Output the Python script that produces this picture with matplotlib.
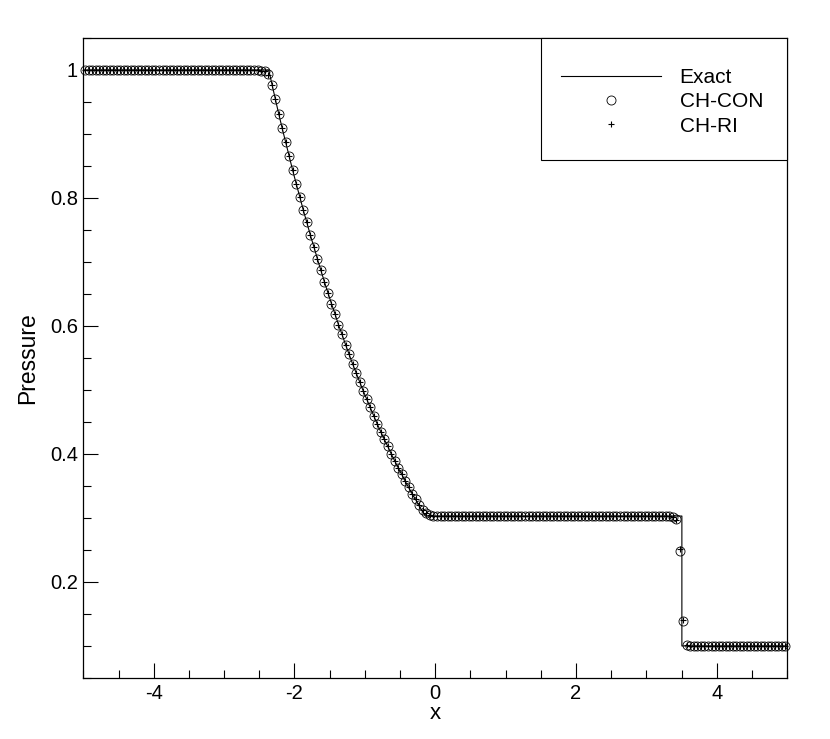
import numpy as np
import matplotlib
matplotlib.use('Agg')
import matplotlib.pyplot as plt
from matplotlib.patches import Rectangle
from matplotlib.ticker import MultipleLocator, FormatStrFormatter

plt.rcParams['font.family'] = ['Liberation Sans', 'DejaVu Sans']
plt.rcParams['axes.unicode_minus'] = False

# cell centres of the numerical solution
x_cells = [
    -4.975, -4.925, -4.875, -4.825, -4.775, -4.725, -4.675, -4.625, -4.575, -4.525,
    -4.475, -4.425, -4.375, -4.325, -4.275, -4.225, -4.175, -4.125, -4.075, -4.025,
    -3.975, -3.925, -3.875, -3.825, -3.775, -3.725, -3.675, -3.625, -3.575, -3.525,
    -3.475, -3.425, -3.375, -3.325, -3.275, -3.225, -3.175, -3.125, -3.075, -3.025,
    -2.975, -2.925, -2.875, -2.825, -2.775, -2.725, -2.675, -2.625, -2.575, -2.525,
    -2.475, -2.425, -2.375, -2.325, -2.275, -2.225, -2.175, -2.125, -2.075, -2.025,
    -1.975, -1.925, -1.875, -1.825, -1.775, -1.725, -1.675, -1.625, -1.575, -1.525,
    -1.475, -1.425, -1.375, -1.325, -1.275, -1.225, -1.175, -1.125, -1.075, -1.025,
    -0.975, -0.925, -0.875, -0.825, -0.775, -0.725, -0.675, -0.625, -0.575, -0.525,
    -0.475, -0.425, -0.375, -0.325, -0.275, -0.225, -0.175, -0.125, -0.075, -0.025,
    0.025, 0.075, 0.125, 0.175, 0.225, 0.275, 0.325, 0.375, 0.425, 0.475,
    0.525, 0.575, 0.625, 0.675, 0.725, 0.775, 0.825, 0.875, 0.925, 0.975,
    1.025, 1.075, 1.125, 1.175, 1.225, 1.275, 1.325, 1.375, 1.425, 1.475,
    1.525, 1.575, 1.625, 1.675, 1.725, 1.775, 1.825, 1.875, 1.925, 1.975,
    2.025, 2.075, 2.125, 2.175, 2.225, 2.275, 2.325, 2.375, 2.425, 2.475,
    2.525, 2.575, 2.625, 2.675, 2.725, 2.775, 2.825, 2.875, 2.925, 2.975,
    3.025, 3.075, 3.125, 3.175, 3.225, 3.275, 3.325, 3.375, 3.425, 3.475,
    3.525, 3.575, 3.625, 3.675, 3.725, 3.775, 3.825, 3.875, 3.925, 3.975,
    4.025, 4.075, 4.125, 4.175, 4.225, 4.275, 4.325, 4.375, 4.425, 4.475,
    4.525, 4.575, 4.625, 4.675, 4.725, 4.775, 4.825, 4.875, 4.925, 4.975,
]

p_con = [
    1.000, 1.000, 1.000, 1.000, 1.000, 1.000, 1.000, 1.000, 1.000, 1.000,
    1.000, 1.000, 1.000, 1.000, 1.000, 1.000, 1.000, 1.000, 1.000, 1.000,
    1.000, 1.000, 1.000, 1.000, 1.000, 1.000, 1.000, 1.000, 1.000, 1.000,
    1.000, 1.000, 1.000, 1.000, 1.000, 1.000, 1.000, 1.000, 1.000, 1.000,
    1.000, 1.000, 1.000, 1.000, 1.000, 1.000, 1.000, 1.000, 1.000, 1.000,
    0.999, 0.998, 0.993, 0.977, 0.955, 0.932, 0.909, 0.887, 0.865, 0.843,
    0.822, 0.802, 0.781, 0.762, 0.742, 0.724, 0.705, 0.687, 0.669, 0.652,
    0.635, 0.619, 0.602, 0.587, 0.571, 0.556, 0.541, 0.527, 0.513, 0.499,
    0.486, 0.473, 0.460, 0.447, 0.435, 0.423, 0.412, 0.400, 0.389, 0.378,
    0.368, 0.358, 0.348, 0.338, 0.329, 0.320, 0.312, 0.307, 0.304, 0.303,
    0.303, 0.303, 0.303, 0.303, 0.303, 0.303, 0.303, 0.303, 0.303, 0.303,
    0.303, 0.303, 0.303, 0.303, 0.303, 0.303, 0.303, 0.303, 0.303, 0.303,
    0.303, 0.303, 0.303, 0.303, 0.303, 0.303, 0.303, 0.303, 0.303, 0.303,
    0.303, 0.303, 0.303, 0.303, 0.303, 0.303, 0.303, 0.303, 0.303, 0.303,
    0.303, 0.303, 0.303, 0.303, 0.303, 0.303, 0.303, 0.303, 0.303, 0.303,
    0.303, 0.303, 0.303, 0.303, 0.303, 0.303, 0.303, 0.303, 0.303, 0.303,
    0.303, 0.303, 0.303, 0.303, 0.303, 0.303, 0.303, 0.302, 0.298, 0.249,
    0.139, 0.102, 0.100, 0.100, 0.100, 0.100, 0.100, 0.100, 0.100, 0.100,
    0.100, 0.100, 0.100, 0.100, 0.100, 0.100, 0.100, 0.100, 0.100, 0.100,
    0.100, 0.100, 0.100, 0.100, 0.100, 0.100, 0.100, 0.100, 0.100, 0.100,
]

p_ri = [
    1.000, 1.000, 1.000, 1.000, 1.000, 1.000, 1.000, 1.000, 1.000, 1.000,
    1.000, 1.000, 1.000, 1.000, 1.000, 1.000, 1.000, 1.000, 1.000, 1.000,
    1.000, 1.000, 1.000, 1.000, 1.000, 1.000, 1.000, 1.000, 1.000, 1.000,
    1.000, 1.000, 1.000, 1.000, 1.000, 1.000, 1.000, 1.000, 1.000, 1.000,
    1.000, 1.000, 1.000, 1.000, 1.000, 1.000, 1.000, 1.000, 1.000, 1.000,
    0.999, 0.998, 0.992, 0.976, 0.955, 0.932, 0.909, 0.887, 0.865, 0.843,
    0.822, 0.802, 0.781, 0.762, 0.742, 0.724, 0.705, 0.687, 0.669, 0.652,
    0.635, 0.619, 0.602, 0.587, 0.571, 0.556, 0.541, 0.527, 0.513, 0.499,
    0.486, 0.473, 0.460, 0.447, 0.435, 0.423, 0.412, 0.400, 0.389, 0.378,
    0.368, 0.358, 0.348, 0.338, 0.329, 0.320, 0.312, 0.307, 0.304, 0.303,
    0.303, 0.303, 0.303, 0.303, 0.303, 0.303, 0.303, 0.303, 0.303, 0.303,
    0.303, 0.303, 0.303, 0.303, 0.303, 0.303, 0.303, 0.303, 0.303, 0.303,
    0.303, 0.303, 0.303, 0.303, 0.303, 0.303, 0.303, 0.303, 0.303, 0.303,
    0.303, 0.303, 0.303, 0.303, 0.303, 0.303, 0.303, 0.303, 0.303, 0.303,
    0.303, 0.303, 0.303, 0.303, 0.303, 0.303, 0.303, 0.303, 0.303, 0.303,
    0.303, 0.303, 0.303, 0.303, 0.303, 0.303, 0.303, 0.303, 0.303, 0.303,
    0.303, 0.303, 0.303, 0.303, 0.303, 0.303, 0.303, 0.302, 0.297, 0.251,
    0.141, 0.102, 0.100, 0.100, 0.100, 0.100, 0.100, 0.100, 0.100, 0.100,
    0.100, 0.100, 0.100, 0.100, 0.100, 0.100, 0.100, 0.100, 0.100, 0.100,
    0.100, 0.100, 0.100, 0.100, 0.100, 0.100, 0.100, 0.100, 0.100, 0.100,
]

# exact solution (piecewise)
x_exact = [
    -5.0, -2.366, -2.325, -2.275, -2.225, -2.175, -2.125, -2.075, -2.025, -1.975,
    -1.925, -1.875, -1.825, -1.775, -1.725, -1.675, -1.625, -1.575, -1.525, -1.475,
    -1.425, -1.375, -1.325, -1.275, -1.225, -1.175, -1.125, -1.075, -1.025, -0.975,
    -0.925, -0.875, -0.825, -0.775, -0.725, -0.675, -0.625, -0.575, -0.525, -0.475,
    -0.425, -0.375, -0.325, -0.275, -0.225, -0.175, -0.141, 3.504, 3.504, 5.0,
]
p_exact = [
    1.000, 1.000, 0.980, 0.956, 0.932, 0.909, 0.887, 0.865, 0.843, 0.822,
    0.802, 0.781, 0.762, 0.742, 0.724, 0.705, 0.687, 0.669, 0.652, 0.635,
    0.619, 0.602, 0.587, 0.571, 0.556, 0.541, 0.527, 0.513, 0.499, 0.486,
    0.473, 0.460, 0.447, 0.435, 0.423, 0.412, 0.400, 0.389, 0.378, 0.368,
    0.357, 0.347, 0.337, 0.328, 0.318, 0.309, 0.303, 0.303, 0.100, 0.100,
]

fig = plt.figure(figsize=(8.3, 7.39), dpi=100)
ax = fig.add_axes([0.1004, 0.0826, 0.848, 0.866])

ax.plot(x_exact, p_exact, color='black', linewidth=0.8, label='Exact')
ax.plot(x_cells, p_con, linestyle='none', marker='o', markersize=6.5,
        markerfacecolor='none', markeredgecolor='black', markeredgewidth=0.6,
        clip_on=False, label='CH-CON')
ax.plot(x_cells, p_ri, linestyle='none', marker='+', markersize=4.5,
        color='black', markeredgewidth=0.8, clip_on=False, label='CH-RI')

ax.set_xlim(-5, 5)
ax.set_ylim(0.05, 1.05)
ax.xaxis.set_major_locator(MultipleLocator(2))
ax.xaxis.set_minor_locator(MultipleLocator(0.5))
ax.yaxis.set_major_locator(MultipleLocator(0.2))
ax.yaxis.set_minor_locator(MultipleLocator(0.05))
ax.yaxis.set_major_formatter(FormatStrFormatter('%g'))
ax.tick_params(which='major', direction='in', length=11, width=0.8, labelsize=14.5, pad=4)
ax.tick_params(which='minor', direction='in', length=6, width=0.8)
for s in ax.spines.values():
    s.set_linewidth(0.9)

ax.set_xlabel('x', fontsize=16, labelpad=0)
ax.set_ylabel('Pressure', fontsize=16.5, labelpad=8)

# legend box drawn separately so its padding matches the original
box = Rectangle((0.650, 0.809), 0.350, 0.191, transform=ax.transAxes,
                facecolor='white', edgecolor='black', linewidth=0.8,
                zorder=4.5, clip_on=False)
ax.add_patch(box)
leg = ax.legend(loc='center', bbox_to_anchor=(0.822, 0.900), borderaxespad=0,
                fontsize=15, handlelength=4.8, handletextpad=0.9,
                labelspacing=0.25, borderpad=0, frameon=False)

fig.savefig('out.png', dpi=100)
